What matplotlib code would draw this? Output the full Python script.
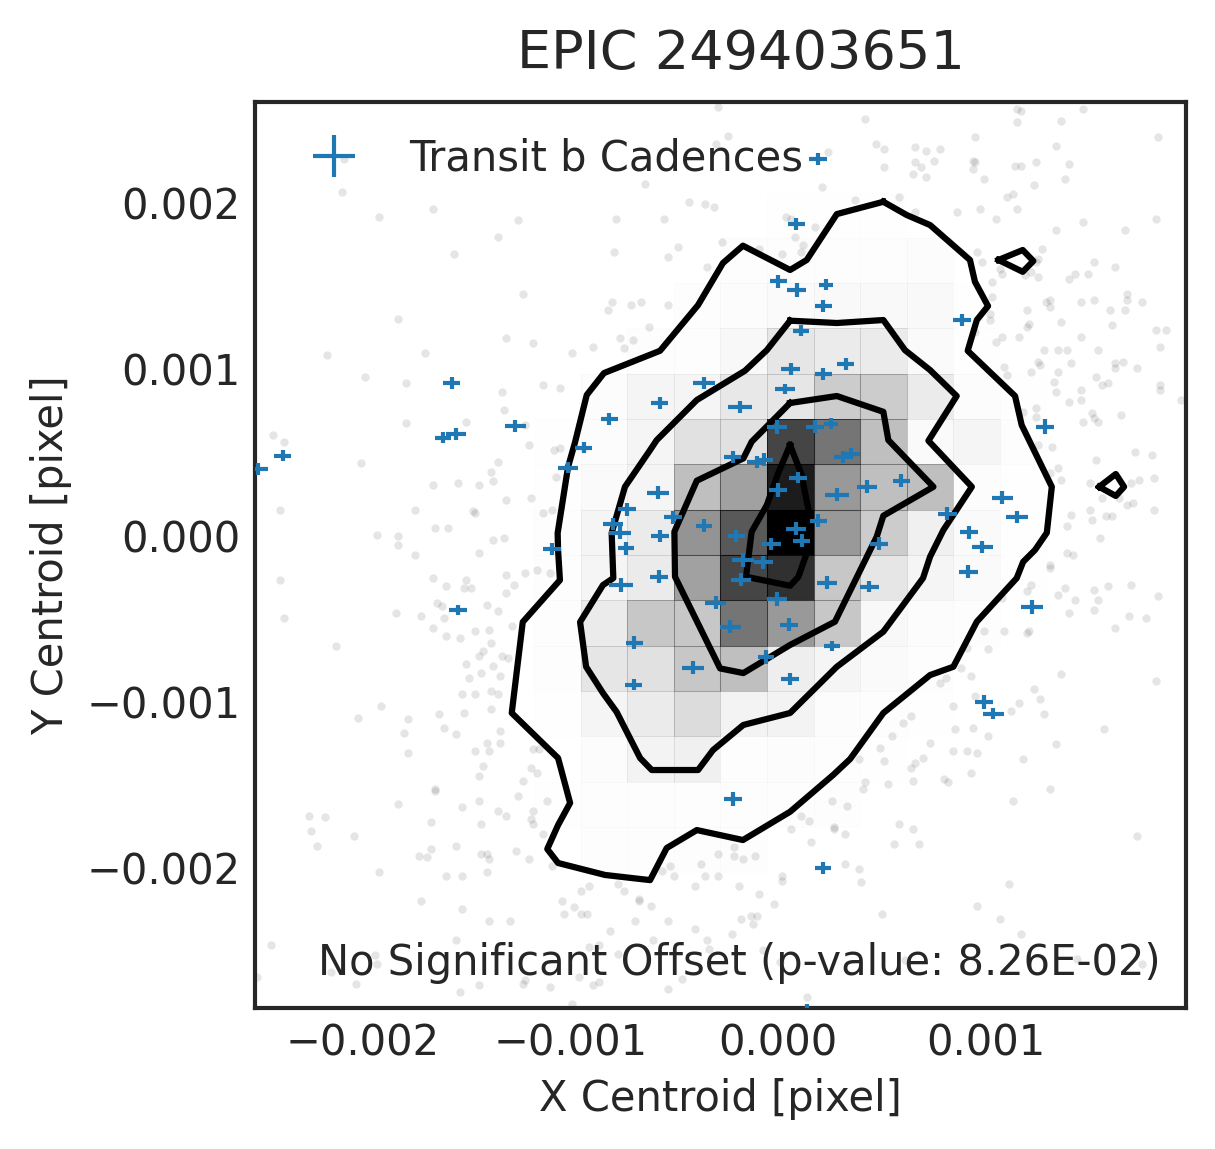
import numpy as np
from matplotlib import pyplot as plt
from matplotlib.transforms import ScaledTranslation

plt.rcParams['font.family'] = ['DejaVu Sans']
plt.rcParams['text.color'] = '.15'
plt.rcParams['axes.labelcolor'] = '.15'
plt.rcParams['xtick.color'] = '.15'
plt.rcParams['ytick.color'] = '.15'
plt.rcParams['axes.edgecolor'] = '.15'
plt.rcParams['axes.linewidth'] = 1.0
plt.rcParams['ytick.alignment'] = 'center'

# all positions are in units of 1e-3 pixel
x_lim = [-2.518, 1.964]
y_lim = [-2.826, 2.622]
x_ticks = [-2, -1, 0, 1]
y_ticks = [-2, -1, 0, 1, 2]

# 20x20 histogram, bottom row first, only the rows that have anything in them
hist_rows = {
    3: {6: .3, 7: .8, 8: .8, 9: .8, 10: .8, 11: .3},
    4: {6: .5, 7: 1, 8: 1, 9: 1, 10: 1, 11: 1, 12: .8},
    5: {6: .3, 7: 1.5, 8: 5, 9: 6, 10: 1, 11: 1.5, 12: .8, 13: .5},
    6: {6: .5, 7: 4, 8: 8, 9: 14, 10: 5, 11: 5, 12: 1.5, 13: 1, 14: .5},
    7: {5: .3, 6: .8, 7: 10, 8: 12, 9: 22, 10: 25, 11: 7, 12: 4, 13: 2, 14: 1},
    8: {5: .3, 6: 1, 7: 8, 8: 22, 9: 22, 10: 54, 11: 40, 12: 22, 13: 3, 14: 1.5, 15: 1},
    9: {6: 1, 7: 4, 8: 8, 9: 37, 10: 73, 11: 81, 12: 22, 13: 10, 14: 4, 15: 2, 16: .5},
    10: {5: .3, 6: 1, 7: 4, 8: 8, 9: 42, 10: 65, 11: 100, 12: 40, 13: 20, 14: 6, 15: 2, 16: .5},
    11: {6: .5, 7: 2, 8: 4, 9: 25, 10: 37, 11: 89, 12: 40, 13: 25, 14: 25, 15: 1.5, 16: .5},
    12: {6: .5, 7: 1.5, 8: 4, 9: 12, 10: 12, 11: 73, 12: 54, 13: 25, 14: 2, 15: 4, 16: 1},
    13: {6: .3, 7: 1.5, 8: 4, 9: 4, 10: 9, 11: 10, 12: 20, 13: 20, 14: 8, 15: 1.5, 16: .5},
    14: {8: 1, 9: 1, 10: 3, 11: 10, 12: 8, 13: 8, 14: 2, 15: .5},
    15: {9: 1, 10: 1.5, 11: 2, 12: 2.5, 13: 2.5, 14: 2.5, 15: .5},
    16: {10: 1, 11: 1, 12: 1, 13: 1, 14: 1.5},
    17: {11: .4, 12: .4, 13: .4},
}

contour_1 = [(.507, 2.022), (.620, 1.942), (.732, 1.882), (.924, 1.672), (.948, 1.541), (1.011, 1.395),
             (.957, 1.311), (.913, 1.126), (1.141, .854), (1.173, .679), (1.318, .308), (1.294, .032),
             (1.237, -.072), (1.180, -.143), (1.149, -.241), (.957, -.503), (.844, -.774), (.732, -.824),
             (.507, -1.052), (.347, -1.329), (.265, -1.425), (.058, -1.646), (-.169, -1.816), (-.391, -1.756),
             (-.536, -1.864), (-.616, -2.057), (-.833, -2.026), (-1.059, -1.954), (-1.111, -1.870),
             (-1.059, -1.726), (-1.001, -1.593), (-1.059, -1.323), (-1.282, -1.052), (-1.229, -.505),
             (-1.050, -.253), (-1.059, -.072), (-1.061, .030), (-1.011, .427), (-.977, .577), (-.921, .860),
             (-.838, .992), (-.568, 1.126), (-.385, 1.401), (-.265, 1.654), (-.169, 1.758), (.058, 1.612),
             (.138, 1.672), (.283, 1.948), (.507, 2.022)]
contour_2 = [(.058, 1.307), (.283, 1.293), (.507, 1.311), (.611, 1.130), (.732, 1.010), (.860, .854),
             (.724, .585), (.933, .308), (.796, .048), (.732, -.112), (.698, -.241), (.507, -.563),
             (.283, -.774), (.058, -1.052), (-.167, -1.124), (-.313, -1.275), (-.385, -1.395), (-.608, -1.395),
             (-.664, -1.323), (-.777, -1.046), (-.843, -.932), (-.924, -.774), (-.953, -.505), (-.843, -.283),
             (-.793, -.241), (-.801, .030), (-.737, .308), (-.616, .529), (-.584, .589), (-.391, .830),
             (-.159, 1.006), (-.054, 1.130), (.058, 1.307)]
contour_3 = [(.058, .812), (.283, .854), (.507, .759), (.531, .589), (.748, .308), (.507, .134), (.475, .008),
             (.274, -.503), (.058, -.643), (-.167, -.812), (-.279, -.784), (-.496, -.233), (-.499, .038),
             (-.391, .345), (-.167, .479), (-.127, .579), (.058, .812)]
contour_4 = [(.058, .559), (.114, .379), (.130, .271), (.154, .128), (.135, -.102), (.098, -.233), (.058, -.287),
             (-.154, -.233), (-.127, .038), (-.054, .198), (.001, .391), (.058, .559)]
island_1 = [(1.061, 1.672), (1.178, 1.732), (1.229, 1.666), (1.178, 1.601), (1.061, 1.672)]
island_2 = [(1.546, .308), (1.626, .385), (1.666, .308), (1.626, .253), (1.546, .308)]

cross_x = [-1.571, -2.385, -2.502, -1.265, -1.614, -1.550, -.812, -.570, -.356, -.936, -1.011, -.578, -.728, -.794,
           -.762, -.506, -.568, -.356, -.733, -1.088, -.573, -.756, -1.541, -.300, -.692, -.411, -.695, .061, .218,
           .326, .034, -.183, -.005, .178, .255, -.218, -.103, -.066, .314, .351, .096, -.001, .284, .427, .594,
           .815, .920, .984, .916, .194, .087, .114, -.032, -.201, -.169, -.071, -.180, .234, .485, .440, -.005,
           -.230, .053, .259, -.059, .058, .193, .088, .001, .090, .231, .218, .886, .111, 1.286, 1.080, 1.149,
           1.223, .992, 1.037, -.218, .215, .138]
cross_y = [.930, .495, .417, .675, .603, .625, .716, .814, .934, .543, .423, .272, .173, .084, .032, .124, .014,
           .074, -.062, -.066, -.233, -.283, -.433, -.389, -.630, -.780, -.882, 1.018, .986, 1.045, .896, .790,
           .667, .669, .687, .487, .455, .471, .485, .507, .363, .289, .260, .308, .345, .146, .034, -.054, -.203,
           .104, .056, -.016, -.036, .014, -.132, -.146, -.251, -.269, -.034, -.293, -.367, -.533, -.521, -.648,
           -.716, -.848, 2.279, 1.888, 1.544, 1.491, 1.523, 1.395, 1.311, 1.247, .669, .242, .128, -.415, -.986,
           -1.057, -1.569, -1.986, -2.838]
cross_xerr = [.042, .042, .045, .051, .038, .048, .040, .040, .054, .042, .048, .053, .043, .048, .053, .043, .045,
              .038, .038, .045, .043, .056, .043, .050, .040, .053, .042, .045, .040, .042, .048, .059, .048, .043,
              .034, .042, .045, .042, .045, .042, .042, .042, .058, .048, .040, .045, .045, .050, .045, .040, .048,
              .042, .045, .040, .054, .045, .048, .048, .043, .045, .048, .050, .043, .040, .038, .043, .043, .040,
              .040, .045, .032, .040, .043, .038, .043, .050, .053, .053, .045, .050, .043, .038, .040]
cross_yerr = [.036, .034, .036, .036, .034, .036, .034, .036, .036, .034, .034, .040, .038, .038, .040, .038, .036,
              .038, .040, .036, .038, .044, .032, .038, .040, .040, .034, .036, .036, .036, .032, .036, .040, .038,
              .034, .034, .036, .038, .036, .034, .034, .040, .040, .038, .040, .040, .038, .038, .040, .040, .040,
              .040, .038, .036, .044, .038, .040, .040, .040, .034, .040, .038, .040, .030, .042, .036, .034, .036,
              .038, .040, .034, .034, .034, .032, .044, .040, .036, .040, .040, .034, .040, .036, .036]

dots_upper_left = [(-2.10, 2.08), (-1.92, 1.93), (-1.66, 1.98), (-1.25, 1.91), (-1.35, 1.81), (-1.56, 1.71),
                   (-1.23, 1.47), (-1.83, 1.32), (-1.31, 1.20), (-1.18, 1.17), (-2.17, 1.10), (-1.70, 1.11),
                   (-1.99, .97), (-1.79, .93), (-1.33, .88), (-1.13, .92), (-1.05, .90), (-1.32, .77), (-1.79, .69),
                   (-1.50, .70), (-1.22, .68), (-2.43, .62), (-2.38, .58), (-1.20, .56), (-1.08, .53), (-1.05, .54),
                   (-2.01, .45), (-1.35, .46), (-1.38, .40), (-1.37, .34), (-1.66, .32), (-1.54, .33), (-1.44, .32),
                   (-1.07, .37), (-1.31, .23), (-1.19, .24), (-2.40, .17), (-1.75, .17), (-1.47, .16), (-1.46, .15),
                   (-1.13, .15), (-1.09, .17), (-1.93, .02), (-1.83, .01), (-1.65, .06), (-1.59, .06), (-1.37, -.01),
                   (-1.32, .00), (-1.83, -.04), (-.64, 2.13), (-.43, 2.02), (-.35, 2.01), (-.31, 1.99), (-.78, 1.92),
                   (-.55, 1.92), (-.79, 1.72), (-.53, 1.69), (-.48, 1.75), (-.34, 1.63), (-.80, 1.42), (-.82, 1.37),
                   (-.71, 1.40), (-.66, 1.42), (-.53, 1.40), (-.62, 1.27), (-.76, 1.20), (-.70, 1.19), (-.74, 1.14),
                   (-.89, 1.15), (-.99, 1.11), (-.30, 2.37), (-2.09, 2.28), (-.29, 2.59)]
dots_upper_right = [(1.15, 2.58), (1.17, 2.57), (1.47, 2.58), (.42, 2.52), (1.15, 2.50), (1.36, 2.51), (-.24, 2.42),
                    (.95, 2.41), (1.83, 2.41), (.47, 2.37), (.51, 2.34), (.66, 2.35), (.71, 2.33), (.78, 2.34),
                    (1.34, 2.36), (.24, 2.32), (.66, 2.26), (.75, 2.27), (.94, 2.27), (.95, 2.26), (1.24, 2.26),
                    (1.14, 2.24), (1.17, 2.24), (1.40, 2.25), (.69, 2.23), (.51, 2.23), (.65, 2.19), (.71, 2.17),
                    (.94, 2.22), (.99, 2.16), (1.38, 2.16), (1.23, 2.12), (.21, 2.11), (1.13, 2.07), (1.10, 2.05),
                    (.58, 2.05), (.37, 2.03), (.66, 1.96), (.86, 1.96), (.97, 1.98), (1.15, 1.98), (1.05, 1.92),
                    (.04, 1.93), (.06, 1.92), (1.82, 1.92), (.18, 1.87), (1.47, 1.90), (1.67, 1.85), (1.34, 1.85),
                    (.08, 1.81), (-.27, 1.78), (.12, 1.76), (.11, 1.72), (.02, 1.71), (-.09, 1.74), (.96, 1.72),
                    (1.27, 1.74), (.98, 1.66), (1.25, 1.68), (1.24, 1.66), (1.52, 1.66), (1.62, 1.63), (1.07, 1.62),
                    (1.08, 1.59), (1.19, 1.58), (1.22, 1.60), (1.25, 1.57), (1.43, 1.59), (1.49, 1.59), (1.40, 1.56),
                    (1.03, 1.54), (1.03, 1.45), (1.68, 1.47), (1.68, 1.43), (1.75, 1.42), (1.46, 1.42), (1.52, 1.43),
                    (1.29, 1.42), (1.31, 1.43), (1.31, 1.39), (1.20, 1.37), (1.67, 1.37), (1.60, 1.37), (1.02, 1.35),
                    (1.02, 1.31), (1.36, 1.30), (1.21, 1.29), (1.20, 1.27), (1.61, 1.28), (1.82, 1.25), (1.87, 1.25),
                    (.95, 1.24), (1.08, 1.21), (1.16, 1.21), (1.05, 1.18), (1.46, 1.21), (1.84, 1.15), (1.28, 1.13),
                    (1.35, 1.13), (1.39, 1.13), (1.54, 1.13), (1.25, 1.06), (1.26, 1.04), (1.41, 1.05), (1.62, 1.05),
                    (1.62, 1.02), (1.66, 1.06), (1.73, 1.02), (1.09, 1.03), (1.10, .98), (1.22, 1.00), (1.35, 1.00),
                    (1.53, .97), (1.33, .94), (1.56, .92), (1.59, .93), (1.84, .92), (1.84, .89), (1.34, .88),
                    (1.46, .89), (1.46, .83), (1.40, .82), (1.94, .83), (1.18, .76), (1.24, .78), (1.24, .73),
                    (1.65, .74), (1.51, .75), (1.52, .72), (1.47, .70), (1.54, .70), (1.25, .56), (1.32, .55),
                    (1.72, .52), (1.80, .50), (1.53, .47), (1.35, .42), (1.36, .35), (1.31, .39), (1.50, .33),
                    (1.74, .35), (1.81, .36), (1.70, .33), (1.56, .24), (1.64, .24), (1.71, .21), (1.68, .20),
                    (1.50, .17), (1.81, .17), (1.41, .14), (1.51, .11), (1.58, .13), (1.61, .13), (1.39, .07),
                    (1.55, .00)]
dots_lower_left = [(-1.75, -.10), (-1.44, -.09), (-2.40, -.25), (-1.66, -.24), (-1.50, -.25), (-1.31, -.22),
                   (-1.22, -.21), (-1.16, -.19), (-1.10, -.21), (-1.60, -.29), (-1.48, -.30), (-1.51, -.30),
                   (-1.27, -.28), (-1.31, -.33), (-1.64, -.39), (-1.62, -.41), (-1.40, -.40), (-1.84, -.45),
                   (-1.72, -.47), (-1.61, -.48), (-1.35, -.44), (-2.38, -.48), (-1.66, -.54), (-1.39, -.55),
                   (-1.46, -.56), (-1.60, -.59), (-1.53, -.60), (-1.28, -.53), (-1.38, -.63), (-2.13, -.65),
                   (-1.42, -.68), (-1.44, -.71), (-1.33, -.71), (-1.30, -.72), (-1.50, -.76), (-1.37, -.77),
                   (-1.43, -.81), (-1.49, -.84), (-1.34, -.83), (-1.91, -1.01), (-2.02, -1.08), (-1.52, -.94),
                   (-1.46, -.94), (-1.38, -.92), (-1.35, -.94), (-1.63, -1.06), (-1.51, -1.05), (-1.38, -1.03),
                   (-1.78, -1.09), (-1.61, -1.14), (-1.80, -1.17), (-1.55, -1.18), (-1.34, -1.16), (-1.78, -1.29),
                   (-1.40, -1.23), (-1.46, -1.28), (-1.39, -1.28), (-1.34, -1.23), (-1.18, -1.27), (-1.15, -1.27),
                   (-1.42, -1.37), (-1.44, -1.43), (-1.19, -1.38), (-1.16, -1.41), (-1.23, -1.46), (-1.65, -1.51),
                   (-1.65, -1.52), (-1.25, -1.55), (-1.83, -1.60), (-1.44, -1.58), (-1.52, -1.62), (-1.11, -1.58),
                   (-1.35, -1.64), (-1.31, -1.67), (-1.18, -1.64), (-2.26, -1.67), (-2.18, -1.68), (-1.67, -1.71),
                   (-1.43, -1.72), (-1.19, -1.69), (-1.18, -1.72), (-2.25, -1.76), (-2.04, -1.79), (-2.22, -1.85),
                   (-1.13, -1.78), (-1.55, -1.85), (-1.67, -1.87), (-1.73, -1.91), (-1.69, -1.92), (-1.43, -1.90),
                   (-1.40, -1.90), (-1.39, -1.93), (-1.26, -1.88), (-1.20, -1.93), (-1.92, -2.01), (-1.60, -2.03),
                   (-1.52, -2.03), (-1.40, -2.01), (-1.09, -1.97), (-1.04, -2.18), (-.95, -2.12), (-.91, -2.09),
                   (-.77, -2.08), (-.74, -2.12), (-.56, -2.00), (-.52, -1.97), (-.50, -2.03), (-.37, -1.96),
                   (-.35, -2.03), (-.40, -2.09), (-.29, -1.90), (-.29, -2.03), (-.67, -2.17), (-.67, -2.18),
                   (-.61, -2.21), (-.98, -2.22), (-1.03, -2.26), (-.95, -2.26), (-.92, -2.26), (-1.72, -2.18),
                   (-1.52, -2.23), (-1.39, -2.30), (-1.29, -2.30), (-.69, -2.30), (-.53, -2.30), (-.81, -2.36),
                   (-.40, -2.35), (-1.55, -2.42), (-2.44, -2.45), (-.34, -2.42), (-.60, -2.42), (-.91, -2.46),
                   (-.86, -2.45), (-.33, -2.47), (-1.94, -2.51), (-1.93, -2.56), (-2.15, -2.61), (-.96, -2.64),
                   (-.77, -2.50), (-2.51, -2.64), (-2.03, -2.68), (-1.44, -2.69), (-1.53, -2.73), (-1.22, -2.66),
                   (-1.23, -2.68), (-1.10, -2.70), (-.89, -2.69), (-.86, -2.67), (-.46, -2.65), (-.53, -2.71),
                   (-.99, -2.80)]
dots_lower_right = [(1.39, -.09), (1.42, -.10), (1.31, -.16), (1.31, -.18), (1.22, -.28), (1.20, -.32), (1.35, -.34),
                    (1.38, -.30), (1.43, -.37), (1.52, -.31), (1.59, -.29), (1.54, -.37), (1.70, -.28), (1.83, -.35),
                    (1.40, -.45), (1.52, -.43), (1.69, -.47), (1.77, -.48), (1.62, -.54), (1.08, -.36), (.99, -.56),
                    (1.09, -.56), (1.21, -.56), (1.20, -.57), (.91, -.66), (1.01, -.67), (1.36, -.82), (1.82, -.86),
                    (.88, -.78), (.93, -.83), (.81, -.84), (.78, -.87), (1.23, -.91), (1.26, -.97), (.95, -.95),
                    (1.16, -.99), (1.12, -1.04), (1.28, -1.06), (.84, -1.01), (.64, -1.07), (.60, -1.11), (.55, -1.19),
                    (.94, -1.14), (.85, -1.15), (1.01, -1.19), (1.57, -1.15), (.73, -1.23), (.49, -1.26), (1.34, -1.24),
                    (.84, -1.28), (.91, -1.28), (.96, -1.29), (.39, -1.33), (.51, -1.34), (.70, -1.32), (.66, -1.35),
                    (.64, -1.38), (1.18, -1.33), (.93, -1.41), (.80, -1.45), (.82, -1.47), (.65, -1.46), (.53, -1.48),
                    (.42, -1.47), (.41, -1.51), (1.31, -1.51), (.26, -1.58), (.33, -1.61), (1.13, -1.58), (.11, -1.67),
                    (.15, -1.70), (.06, -1.75), (.27, -1.74), (.27, -1.75), (.32, -1.78), (.58, -1.72), (.65, -1.75),
                    (.16, -1.83), (.56, -1.84), (.68, -1.84), (1.73, -1.79), (-.21, -1.86), (-.21, -1.91), (-.11, -1.91),
                    (-.17, -1.93), (.32, -1.96), (.39, -1.99), (.02, -2.03), (.02, -2.06), (.40, -2.07), (-.19, -2.09),
                    (1.11, -2.08), (-.09, -2.14), (-.02, -2.20), (.96, -2.21), (.50, -2.26), (1.07, -2.29), (-.13, -2.27),
                    (-.10, -2.27), (-.18, -2.29), (-.12, -2.32), (1.17, -2.38), (-.22, -2.38), (-.07, -2.48), (.01, -2.55),
                    (.61, -2.54), (1.44, -2.53), (1.75, -2.56), (.14, -2.76)]

title = 'EPIC 249403651'
legend_label = 'Transit b Cadences'
note = 'No Significant Offset (p-value: 8.26E-02)'

fig = plt.figure(figsize=(4.05, 3.83), dpi=300)
ax = fig.add_axes([255 / 1215, 141 / 1149, 931 / 1215, 906 / 1149])

x_edges = np.linspace(x_lim[0], x_lim[1], 21) * 1e-3
y_edges = np.linspace(y_lim[0], y_lim[1], 21) * 1e-3
counts = np.zeros((20, 20))
for row, cells in hist_rows.items():
    for col, val in cells.items():
        counts[row, col] = val

ax.pcolormesh(x_edges, y_edges, counts, cmap='gray_r', vmin=0, vmax=100, zorder=1)
# thin darker cell borders, stronger on the darker cells
borders = ax.pcolormesh(x_edges, y_edges, counts, linewidth=0.25, antialiased=True, zorder=1)
border_colors = np.zeros((counts.size, 4))
border_colors[:, 3] = np.minimum(0.8 * counts.ravel() / 100, 0.5)
borders.set_array(None)
borders.set_facecolor('none')
borders.set_edgecolor(border_colors)

dots = np.array(dots_upper_left + dots_upper_right + dots_lower_left + dots_lower_right) * 1e-3
ax.scatter(dots[:, 0], dots[:, 1], s=4, c='k', alpha=0.1, linewidths=0, zorder=2)

for line in [contour_1, contour_2, contour_3, contour_4, island_1, island_2]:
    line = np.array(line) * 1e-3
    ax.plot(line[:, 0], line[:, 1], color='k', lw=1.5, zorder=3)

ax.errorbar(np.array(cross_x) * 1e-3, np.array(cross_y) * 1e-3,
            xerr=np.array(cross_xerr) * 1e-3, yerr=np.array(cross_yerr) * 1e-3,
            fmt='none', ecolor='C0', elinewidth=1.0, zorder=4, label=legend_label)

ax.set_xlim(x_lim[0] * 1e-3, x_lim[1] * 1e-3)
ax.set_ylim(y_lim[0] * 1e-3, y_lim[1] * 1e-3)
ax.set_xticks(np.array(x_ticks) * 1e-3)
ax.set_yticks(np.array(y_ticks) * 1e-3)
ax.tick_params(length=0, labelsize=10, pad=3.5)
# labels sit a little lower than plain centre alignment
label_shift = ScaledTranslation(0, -2 / 300, fig.dpi_scale_trans)
for label in ax.get_yticklabels():
    label.set_transform(label.get_transform() + label_shift)
ax.set_xlabel('X Centroid [pixel]', fontsize=10, labelpad=3.3)
ax.set_ylabel('Y Centroid [pixel]', fontsize=10, labelpad=3.5)
ax.set_title(title, fontsize=13, x=0.522, pad=8)
ax.legend(loc='upper left', bbox_to_anchor=(0, 1.002), frameon=False, fontsize=10)
ax.text(0.973, 0.0267, note, transform=ax.transAxes, ha='right', va='bottom', fontsize=10)

plt.savefig('out.png', dpi=300)
